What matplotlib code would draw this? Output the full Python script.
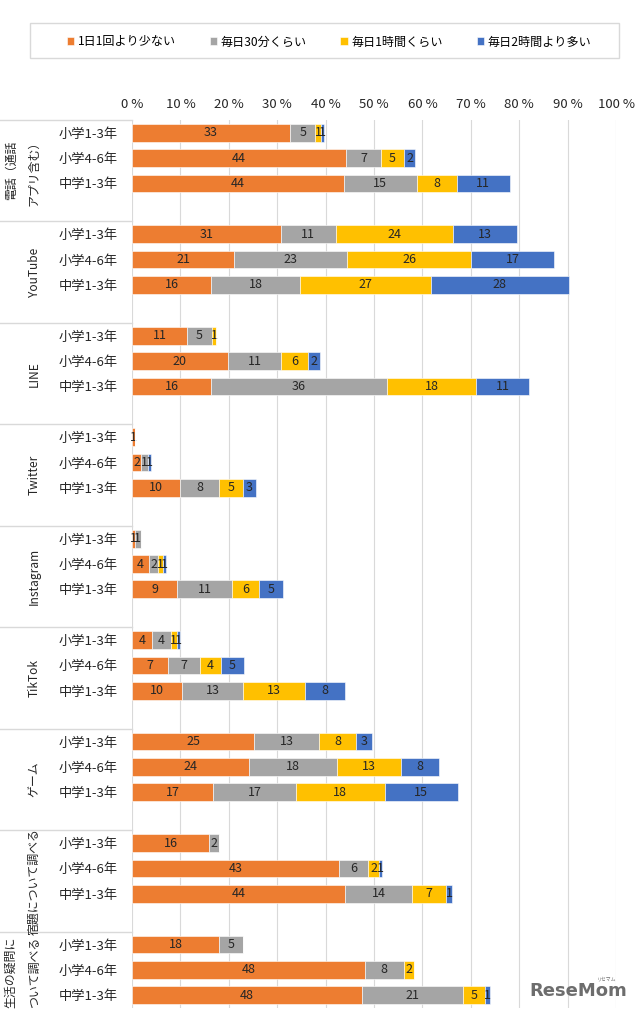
import numpy as np
import matplotlib.pyplot as plt
import matplotlib.transforms as mtransforms
from matplotlib.patches import Rectangle

plt.rcParams['font.family'] = ['Noto Sans CJK JP', 'DejaVu Sans']

groups = ['電話（通話\nアプリ含む）', 'YouTube', 'LINE', 'Twitter', 'Instagram',
          'TikTok', 'ゲーム', '宿題について調べる', '生活の疑問に\nついて調べる']
grades = ['小学1-3年', '小学4-6年', '中学1-3年']
series = ['1日1回より少ない', '毎日30分くらい', '毎日1時間くらい', '毎日2時間より多い']
colors = ['#ED7D31', '#A5A5A5', '#FFC000', '#4472C4']

less_once = [32.7, 44.3, 43.7, 30.8, 21.1, 16.4, 11.4, 19.8, 16.3, 0.6, 1.9, 10.0, 0.6, 3.6, 9.3,
             4.2, 7.4, 10.3, 25.3, 24.2, 16.8, 15.9, 42.8, 44.0, 18.0, 48.1, 47.6]
min30 = [5.2, 7.1, 15.2, 11.3, 23.4, 18.3, 5.1, 11.0, 36.4, 0, 1.4, 8.0, 1.2, 1.7, 11.4,
         3.8, 6.7, 12.7, 13.4, 18.1, 17.0, 2.1, 6.0, 13.9, 4.9, 8.0, 20.7]
hour1 = [1.1, 4.9, 8.3, 24.3, 25.6, 27.1, 0.9, 5.6, 18.4, 0, 0, 4.9, 0, 1.1, 5.6,
         1.3, 4.2, 12.8, 7.5, 13.2, 18.4, 0, 2.2, 7.0, 0, 2.2, 4.6]
hour2 = [0.6, 2.2, 10.8, 13.2, 17.0, 28.4, 0, 2.4, 11.0, 0, 0.7, 2.7, 0, 0.6, 4.8,
         0.7, 4.9, 8.3, 3.4, 7.9, 15.1, 0, 0.6, 1.3, 0, 0, 1.0]
values = [less_once, min30, hour1, hour2]

W, H = 640, 1017
fig = plt.figure(figsize=(W / 100, H / 100), dpi=100)
ax = fig.add_axes([132 / W, 1 - 1008 / H, (616 - 132) / W, (1008 - 120) / H])

# rows: 4 per group (3 bars + empty gap)
ypos = np.array([4 * g + r for g in range(len(groups)) for r in range(3)])
left = np.zeros(len(ypos))
for name, vals, c in zip(series, values, colors):
    vals = np.array(vals)
    bars = ax.barh(ypos, vals, left=left, height=0.7, color=c, label=name,
                   edgecolor='white', linewidth=0.4, zorder=3)
    labels = [str(int(v + 0.5)) if v > 0 else '' for v in vals]
    ax.bar_label(bars, labels=labels, label_type='center', fontsize=9, color='#262626')
    left += vals

ax.set_xlim(0, 100)
ax.set_ylim(34.5, -0.5)
ax.set_xticks(np.arange(0, 101, 10))
ax.set_xticklabels([f'{t} %' for t in range(0, 101, 10)], fontsize=9.5, color='#262626')
ax.xaxis.tick_top()
ax.tick_params(axis='x', length=0, pad=6.5)
ax.set_yticks(ypos)
ax.set_yticklabels(grades * len(groups), fontsize=9.5, color='#262626')
ax.tick_params(axis='y', length=0, pad=10)
ax.grid(axis='x', color='#D9D9D9', linewidth=0.8, zorder=0)
for s in ax.spines.values():
    s.set_visible(False)

# group labels and separators on the left
tr = mtransforms.blended_transform_factory(fig.transFigure, ax.transData)
for g, name in enumerate(groups):
    ax.plot([0, 132 / W], [4 * g - 0.5, 4 * g - 0.5], transform=tr, color='#D9D9D9',
            linewidth=1, clip_on=False)
    lines = name.split('\n')
    yc = 4 * g + 1.5 if g < len(groups) - 1 else 4 * g + 1.1
    for i, ln in enumerate(lines):
        x = (34 - 23 * (len(lines) - 1 - i)) / W
        ax.text(x, yc, ln, transform=tr, rotation=90, ha='center', va='center',
                fontsize=8.6, color='#262626')

# legend with its own frame
fig.patches.append(Rectangle((30 / W, 1 - 58 / H), (619 - 30) / W, 35 / H,
                             transform=fig.transFigure, facecolor='white',
                             edgecolor='#D9D9D9', linewidth=1))
fig.legend(loc='center', bbox_to_anchor=(329 / W, 1 - 42 / H), ncol=4, frameon=False,
           fontsize=8.7, handlelength=0.6, handleheight=0.6, handletextpad=0.3,
           columnspacing=2.8)

fig.text(578 / W, 1 - 991 / H, 'ReseMom', fontsize=13, fontweight='bold', color='#6D6D6D',
         ha='center', va='center', family='DejaVu Sans')
fig.text(607 / W, 1 - 979 / H, 'リセマム', fontsize=3.5, color='#6D6D6D',
         ha='center', va='center')

fig.savefig('out.png', dpi=100)
